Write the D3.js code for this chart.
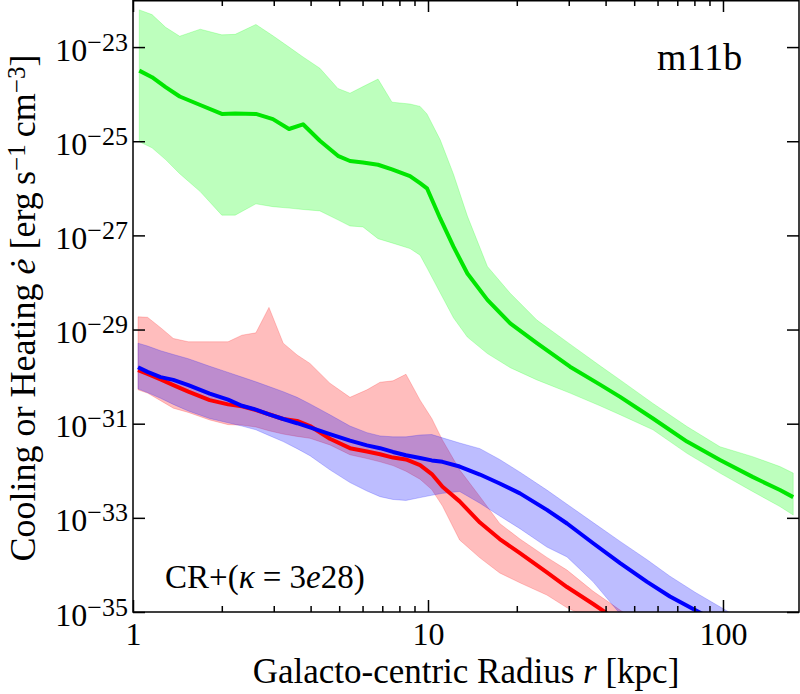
<!DOCTYPE html>
<html>
<head>
<meta charset="utf-8">
<script src="https://cdn.jsdelivr.net/npm/d3@7"></script>
<style>
  body { margin: 0; background: #fff; }
  svg text { font-family: "Liberation Serif", "Times New Roman", serif; }
</style>
</head>
<body>
<svg id="chart"></svg>
<script>
// radius in kpc; rates are stored as log10 of e-dot [erg s^-1 cm^-3]
const greenR = [1.05, 1.16, 1.29, 1.44, 1.69, 2.0, 2.22, 2.61, 2.98, 3.38, 3.77, 4.3, 4.95, 5.44, 6.02, 6.77, 7.55, 8.69, 9.4, 9.92,
  11.0, 12.2, 13.6, 15.9, 19.0, 23.4, 30.3, 38.3, 44.8, 57.9, 75.5, 97.7, 126, 156, 173];
const greenMid = [-23.50, -23.64, -23.85, -24.05, -24.23, -24.42, -24.41, -24.42, -24.53, -24.74, -24.64, -24.99, -25.31, -25.42,
  -25.45, -25.50, -25.60, -25.74, -25.89, -26.00, -26.64, -27.24, -27.81, -28.37, -28.87, -29.29, -29.79, -30.17, -30.43, -30.89,
  -31.38, -31.77, -32.13, -32.41, -32.56];
const greenHi = [-22.21, -22.31, -22.58, -22.77, -22.62, -22.74, -22.73, -22.52, -22.76, -23.00, -23.21, -23.45, -23.88, -23.98,
  -23.84, -23.68, -24.17, -24.21, -24.26, -24.42, -24.97, -25.70, -26.59, -27.66, -28.23, -28.80, -29.31, -29.77, -30.07, -30.57,
  -31.06, -31.49, -31.70, -31.91, -32.05];
const greenLo = [-25.01, -25.14, -25.39, -25.69, -26.07, -26.57, -26.57, -26.33, -26.39, -26.42, -26.45, -26.48, -26.67, -26.80,
  -26.82, -27.07, -27.16, -27.28, -27.42, -27.69, -28.22, -28.75, -29.16, -29.51, -29.81, -30.07, -30.35, -30.62, -30.81, -31.13,
  -31.63, -32.05, -32.44, -32.76, -32.94];

const innerR = [1.04, 1.12, 1.24, 1.37, 1.54, 1.82, 2.1, 2.34, 2.61, 2.89, 3.23, 3.6, 3.98, 4.65, 5.44, 6.21, 6.88, 7.61, 8.42, 9.4,
  10.3, 11.2, 12.8, 15.0, 17.5, 20.5, 25.3, 29.6, 36.3, 44.8, 55.3, 66.1, 80.4, 106];
const redMid = [-29.86, -29.94, -30.06, -30.18, -30.32, -30.50, -30.59, -30.63, -30.71, -30.80, -30.90, -30.94, -31.05, -31.32,
  -31.52, -31.59, -31.65, -31.72, -31.76, -31.88, -32.07, -32.34, -32.65, -33.10, -33.45, -33.75, -34.16, -34.47, -34.83, -35.22, -35.59];
const redHi = [-28.73, -28.74, -28.96, -29.19, -29.26, -29.26, -29.26, -29.12, -29.07, -28.53, -29.29, -29.54, -29.72, -30.14,
  -30.44, -30.28, -30.12, -30.09, -29.95, -30.50, -30.89, -31.35, -31.98, -32.55, -33.12, -33.45, -33.84, -34.11, -34.56, -34.96, -35.34];
const redLo = [-30.28, -30.35, -30.51, -30.67, -30.76, -30.92, -31.02, -31.03, -31.07, -31.15, -31.22, -31.27, -31.31, -31.45,
  -31.66, -31.74, -31.81, -31.89, -32.01, -32.18, -32.40, -32.75, -33.47, -33.85, -34.17, -34.38, -34.64, -34.91, -35.17, -35.49, -35.81];
const blueMid = [-29.80, -29.90, -30.01, -30.07, -30.18, -30.36, -30.49, -30.62, -30.70, -30.80, -30.90, -30.99, -31.08, -31.22,
  -31.36, -31.46, -31.52, -31.60, -31.67, -31.73, -31.78, -31.81, -31.91, -32.08, -32.27, -32.48, -32.83, -33.12, -33.54, -33.96,
  -34.36, -34.67, -34.96, -35.35];
const blueHi = [-29.29, -29.35, -29.45, -29.53, -29.62, -29.78, -29.91, -30.01, -30.11, -30.21, -30.32, -30.44, -30.58, -30.81,
  -31.05, -31.19, -31.26, -31.28, -31.28, -31.24, -31.23, -31.30, -31.41, -31.53, -31.76, -32.03, -32.41, -32.71, -33.10, -33.50,
  -33.89, -34.24, -34.58, -35.02];
const blueLo = [-30.26, -30.34, -30.46, -30.59, -30.73, -30.89, -30.98, -31.05, -31.13, -31.25, -31.38, -31.53, -31.68, -31.98,
  -32.25, -32.43, -32.55, -32.61, -32.63, -32.57, -32.52, -32.48, -32.44, -32.69, -32.96, -33.23, -33.62, -33.83, -34.36, -35.04,
  -35.59, -36.0, -36.4, -37.3];

const xMajor = [1, 10, 100];
const xMinor = [2, 3, 4, 5, 6, 7, 8, 9, 20, 30, 40, 50, 60, 70, 80, 90];
const yMajor = [1e-35, 1e-33, 1e-31, 1e-29, 1e-27, 1e-25, 1e-23];

const svgWidth = 800, svgHeight = 694;
const plotLeft = 133, plotRight = 799, plotTop = 0, plotBottom = 612;
const font = "'Liberation Serif', 'Times New Roman', serif";

const svg = d3.select("#chart").attr("width", svgWidth).attr("height", svgHeight);

const x = d3.scaleLog().domain([1, 181]).range([plotLeft, plotRight]);
const y = d3.scaleLog().domain([1e-35, 1e-22]).range([plotBottom, plotTop]);

svg.append("clipPath").attr("id", "plot")
  .append("rect").attr("x", plotLeft).attr("y", plotTop)
  .attr("width", plotRight - plotLeft).attr("height", plotBottom - plotTop);

function rows(r, mid, lo, hi) {
  return mid.map((m, i) => ({ r: r[i], mid: 10 ** m, lo: 10 ** lo[i], hi: 10 ** hi[i] }));
}

const series = [
  { color: "#00ff00", line: "#00e600", data: rows(greenR, greenMid, greenLo, greenHi) },
  { color: "#ff0000", line: "#ff0000", data: rows(innerR, redMid, redLo, redHi) },
  { color: "#0000ff", line: "#0000ff", data: rows(innerR, blueMid, blueLo, blueHi) }
];

const area = d3.area().x(d => x(d.r)).y0(d => y(d.lo)).y1(d => y(d.hi));
const line = d3.line().x(d => x(d.r)).y(d => y(d.mid));

const plot = svg.append("g").attr("clip-path", "url(#plot)");

series.forEach(s => {
  plot.append("path")
    .attr("d", area(s.data))
    .attr("fill", s.color)
    .attr("fill-opacity", 0.26)
    .attr("stroke", s.color)
    .attr("stroke-opacity", 0.2)
    .attr("stroke-width", 1);
});

series.forEach(s => {
  plot.append("path")
    .attr("d", line(s.data))
    .attr("fill", "none")
    .attr("stroke", s.line)
    .attr("stroke-width", 4)
    .attr("stroke-linejoin", "round");
});

// ticks on all four sides, pointing inward
function ticks(g) {
  g.select(".domain").remove();
  g.selectAll(".tick line").attr("stroke-width", 1.5);
  g.attr("font-family", null);
}

svg.append("g").attr("transform", `translate(0,${plotBottom})`)
  .call(d3.axisBottom(x).tickValues(xMinor).tickSize(-6).tickFormat("")).call(ticks);
svg.append("g").attr("transform", `translate(0,${plotTop})`)
  .call(d3.axisTop(x).tickValues(xMinor).tickSize(-6).tickFormat("")).call(ticks);
svg.append("g").attr("transform", `translate(0,${plotTop})`)
  .call(d3.axisTop(x).tickValues(xMajor).tickSize(-12).tickFormat("")).call(ticks);
svg.append("g").attr("transform", `translate(${plotRight},0)`)
  .call(d3.axisRight(y).tickValues(yMajor).tickSize(-12).tickFormat("")).call(ticks);

const xAxis = svg.append("g").attr("transform", `translate(0,${plotBottom})`)
  .call(d3.axisBottom(x).tickValues(xMajor).tickSize(-12).tickFormat(d3.format("d")))
  .call(ticks);
xAxis.selectAll(".tick text")
  .style("font-family", font).style("font-size", "32px")
  .attr("fill", "#000").attr("y", 33).attr("dy", 0);

const yAxis = svg.append("g").attr("transform", `translate(${plotLeft},0)`)
  .call(d3.axisLeft(y).tickValues(yMajor).tickSize(-12))
  .call(ticks);
yAxis.selectAll(".tick text").each(function (d) {
  const t = d3.select(this).text("")
    .style("font-family", font).style("font-size", "32px")
    .attr("fill", "#000").attr("x", -5).attr("dy", 13);
  t.append("tspan").text("10");
  t.append("tspan").attr("dy", -10).style("font-size", "26px").text("\u2212" + Math.round(-Math.log10(d)));
});

svg.append("rect")
  .attr("x", plotLeft).attr("y", plotTop + 0.75)
  .attr("width", plotRight - plotLeft).attr("height", plotBottom - plotTop - 0.75)
  .attr("fill", "none").attr("stroke", "#000").attr("stroke-width", 1.5);

// axis titles
const xLabel = svg.append("text")
  .attr("x", (plotLeft + plotRight) / 2).attr("y", 683)
  .attr("text-anchor", "middle").style("font-size", "35px");
xLabel.append("tspan").text("Galacto-centric Radius ");
xLabel.append("tspan").attr("font-style", "italic").text("r");
xLabel.append("tspan").text(" [kpc]");

const yLabel = svg.append("text")
  .attr("transform", `translate(35,${(plotTop + plotBottom) / 2 + 2}) rotate(-90)`)
  .attr("text-anchor", "middle").style("font-size", "36px");
yLabel.append("tspan").text("Cooling or Heating ");
yLabel.append("tspan").attr("font-style", "italic").text("\u0117");
yLabel.append("tspan").text(" [erg\u2009s");
yLabel.append("tspan").attr("dy", -10).style("font-size", "25px").text("\u22121");
yLabel.append("tspan").attr("dy", 10).text("\u2009cm");
yLabel.append("tspan").attr("dy", -10).style("font-size", "25px").text("\u22123");
yLabel.append("tspan").attr("dy", 10).text("]");

svg.append("text")
  .attr("x", 657).attr("y", 70)
  .style("font-size", "38px").text("m11b");

const note = svg.append("text")
  .attr("x", 165).attr("y", 588).style("font-size", "33px");
note.append("tspan").text("CR+(");
note.append("tspan").attr("font-style", "italic").text("\u03ba");
note.append("tspan").text(" = 3");
note.append("tspan").attr("font-style", "italic").text("e");
note.append("tspan").text("28)");
</script>
</body>
</html>
